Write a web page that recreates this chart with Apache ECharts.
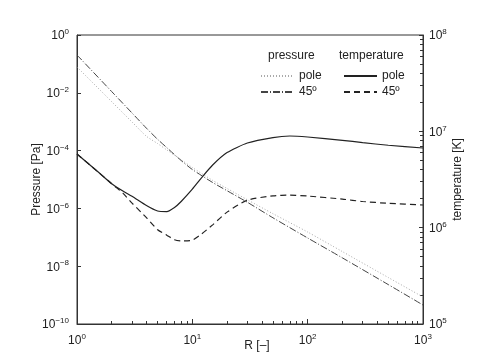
<!DOCTYPE html>
<html>
<head>
<meta charset="utf-8">
<script src="https://cdn.jsdelivr.net/npm/echarts@6/dist/echarts.min.js"></script>
<style>
  html, body { margin: 0; padding: 0; background: #fff; }
  #chart { width: 479px; height: 364px; }
</style>
</head>
<body>
<div id="chart"></div>
<script>
// pressure curves, R [-] vs P [Pa]
const pressureR = [1, 2, 3, 4, 5, 6, 8, 10, 15, 20, 30, 50, 100, 200, 500, 1000];
const pressurePole = [0.0781, 4.92e-3, 9.77e-4, 3.13e-4, 1.75e-4, 1.06e-4, 4.81e-5, 2.60e-5, 9.31e-6, 4.89e-6, 1.99e-6, 6.56e-7, 1.52e-7, 3.20e-8, 4.06e-9, 8.59e-10];
const pressure45 = [0.203, 0.0110, 2.00e-3, 5.96e-4, 2.46e-4, 1.27e-4, 4.54e-5, 2.22e-5, 7.87e-6, 4.09e-6, 1.63e-6, 4.73e-7, 9.46e-8, 1.94e-8, 2.31e-9, 4.54e-10];

// temperature curves, R [-] vs T [K]
const tempR = [1, 1.5, 2, 2.5, 3, 4, 5, 6, 7, 8, 10, 12, 15, 20, 30, 50, 70, 100, 200, 300, 500, 1000];
const tempPole = [5.81e6, 3.85e6, 2.86e6, 2.40e6, 2.12e6, 1.70e6, 1.49e6, 1.47e6, 1.62e6, 1.87e6, 2.51e6, 3.29e6, 4.47e6, 6.02e6, 7.56e6, 8.62e6, 8.94e6, 8.73e6, 8.07e6, 7.63e6, 7.17e6, 6.71e6];
const temp45 = [5.81e6, 3.85e6, 2.86e6, 2.28e6, 1.80e6, 1.27e6, 9.53e5, 8.36e5, 7.50e5, 7.27e5, 7.43e5, 8.58e5, 1.07e6, 1.45e6, 1.93e6, 2.14e6, 2.18e6, 2.13e6, 1.98e6, 1.87e6, 1.79e6, 1.72e6];

// ticks
const xMajor = [1, 10, 100, 1000];
const xMinor = [2, 3, 4, 5, 6, 7, 8, 9, 20, 30, 40, 50, 60, 70, 80, 90, 200, 300, 400, 500, 600, 700, 800, 900];
const pTicks = [1, 1e-2, 1e-4, 1e-6, 1e-8, 1e-10];
const tTicks = [1e5, 1e6, 1e7, 1e8];
const tMinor = [2e5, 3e5, 4e5, 5e5, 6e5, 7e5, 8e5, 9e5, 2e6, 3e6, 4e6, 5e6, 6e6, 7e6, 8e6, 9e6, 2e7, 3e7, 4e7, 5e7, 6e7, 7e7, 8e7, 9e7];

const FONT = '"Liberation Sans", Arial, sans-serif';
const INK = '#222';

function pow10(v) {
  const e = Math.round(Math.log10(v));
  return '{b|10}{e|' + (e < 0 ? '\u2212' + (-e) : e) + '}';
}
const rich = {
  b: { fontSize: 12, fontFamily: FONT, color: INK, lineHeight: 14, verticalAlign: 'bottom' },
  e: { fontSize: 8, fontFamily: FONT, color: INK, lineHeight: 14, verticalAlign: 'top', padding: [0, 0, 8, 0] }
};

const pairs = (xs, ys) => xs.map((x, i) => [x, ys[i]]);

const legendBase = {
  orient: 'vertical', top: 65, itemWidth: 33, itemHeight: 10, itemGap: 4,
  formatter: n => n.split(' ')[1],
  itemStyle: { opacity: 0 },
  textStyle: { fontSize: 12, color: INK, fontFamily: FONT }
};

const chart = echarts.init(document.getElementById('chart'));
chart.setOption({
  animation: false,
  backgroundColor: '#fff',
  textStyle: { fontFamily: FONT },
  grid: {
    left: 77, right: 56, top: 35, bottom: 40, show: true, borderColor: '#333', borderWidth: 1,
    outerBoundsMode: 'none', containLabel: false
  },
  xAxis: [
    {
      type: 'log', logBase: 10, min: 1, max: 1000, position: 'bottom',
      name: 'R [\u2013]', nameLocation: 'middle', nameGap: 16, nameMoveOverlap: false,
      nameTextStyle: { fontSize: 12, color: INK, fontFamily: FONT, verticalAlign: 'top', padding: [0, 0, 0, 14] },
      axisLine: { lineStyle: { color: '#333', width: 1 } },
      axisTick: { inside: true, length: 5, customValues: xMajor, lineStyle: { color: '#333' } },
      axisLabel: { customValues: xMajor, margin: 9, formatter: pow10, rich: rich },
      splitLine: { show: false }, minorTick: { show: false }
    },
    {
      type: 'log', logBase: 10, min: 1, max: 1000, position: 'bottom',
      axisLine: { show: false },
      axisTick: { inside: true, length: 3, customValues: xMinor, lineStyle: { color: '#333' } },
      axisLabel: { show: false }, splitLine: { show: false }
    }
  ],
  yAxis: [
    {
      type: 'log', logBase: 10, min: 1e-10, max: 1, position: 'left',
      name: 'Pressure [Pa]', nameLocation: 'middle', nameGap: 34, nameMoveOverlap: false,
      nameTextStyle: { fontSize: 12, color: INK, fontFamily: FONT },
      axisLine: { show: true, lineStyle: { color: '#333', width: 1 } },
      axisTick: { show: true, inside: true, length: 4, customValues: pTicks, lineStyle: { color: '#333' } },
      axisLabel: { customValues: pTicks, margin: 8, formatter: pow10, rich: rich },
      splitLine: { show: false }
    },
    {
      type: 'log', logBase: 10, min: 1e5, max: 1e8, position: 'right',
      name: 'temperature [K]', nameLocation: 'middle', nameGap: 29, nameMoveOverlap: false,
      nameTextStyle: { fontSize: 12, color: INK, fontFamily: FONT },
      axisLine: { show: true, lineStyle: { color: '#333', width: 1 } },
      axisTick: { show: true, inside: true, length: 4, customValues: tTicks, lineStyle: { color: '#333' } },
      axisLabel: { customValues: tTicks, margin: 6, formatter: pow10, rich: rich },
      splitLine: { show: false }
    },
    {
      type: 'log', logBase: 10, min: 1e5, max: 1e8, position: 'right',
      axisLine: { show: false },
      axisTick: { show: true, inside: true, length: 3, customValues: tMinor, lineStyle: { color: '#333' } },
      axisLabel: { show: false }, splitLine: { show: false }
    }
  ],
  legend: [
    Object.assign({ data: ['pressure pole', 'pressure 45\u00ba'], left: 255 }, legendBase),
    Object.assign({ data: ['temperature pole', 'temperature 45\u00ba'], left: 338 }, legendBase)
  ],
  graphic: [
    { type: 'text', left: 268, top: 50, style: { text: 'pressure', fontSize: 12, fill: INK, fontFamily: FONT } },
    { type: 'text', left: 339, top: 50, style: { text: 'temperature', fontSize: 12, fill: INK, fontFamily: FONT } }
  ],
  series: [
    {
      name: 'pressure pole', type: 'line', xAxisIndex: 0, yAxisIndex: 0, symbol: 'none', smooth: 0.25,
      lineStyle: { color: '#aaa', width: 1, type: [1, 2] }, itemStyle: { color: '#aaa' },
      data: pairs(pressureR, pressurePole)
    },
    {
      name: 'pressure 45\u00ba', type: 'line', xAxisIndex: 0, yAxisIndex: 0, symbol: 'none', smooth: 0.25,
      lineStyle: { color: '#444', width: 1, type: [7, 2, 1, 2] }, itemStyle: { color: '#444' },
      data: pairs(pressureR, pressure45)
    },
    {
      name: 'temperature pole', type: 'line', xAxisIndex: 0, yAxisIndex: 1, symbol: 'none', smooth: 0.2,
      lineStyle: { color: INK, width: 1.2, type: 'solid' }, itemStyle: { color: INK },
      data: pairs(tempR, tempPole)
    },
    {
      name: 'temperature 45\u00ba', type: 'line', xAxisIndex: 0, yAxisIndex: 1, symbol: 'none', smooth: 0.2,
      lineStyle: { color: INK, width: 1.2, type: [6, 4] }, itemStyle: { color: INK },
      data: pairs(tempR, temp45)
    }
  ]
});
</script>
</body>
</html>
